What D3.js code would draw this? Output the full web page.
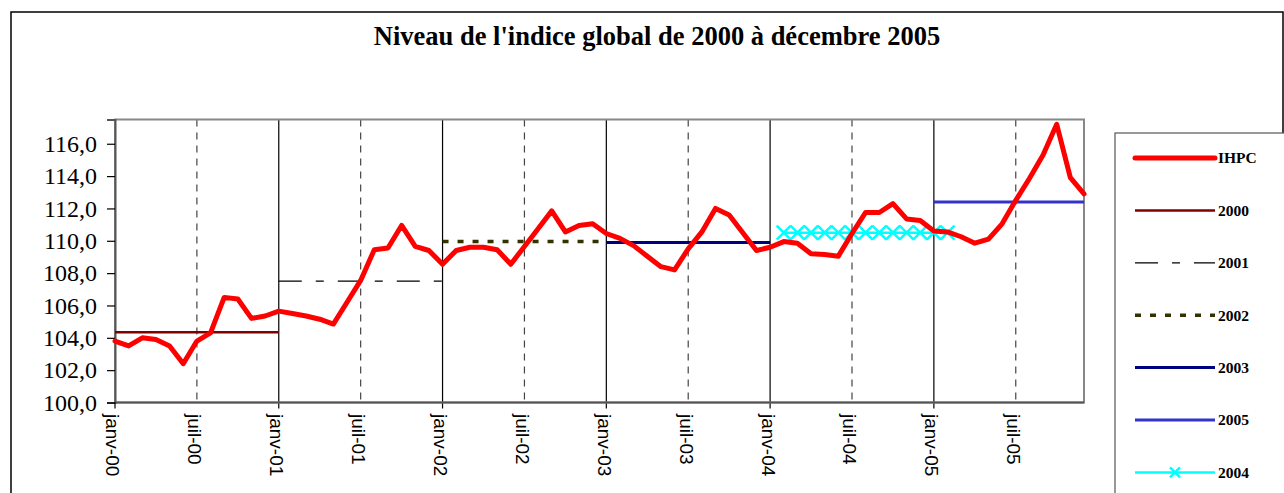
<!DOCTYPE html>
<meta charset="utf-8">
<head>
  <style>
      body { margin: 0; background: #fff; }
      #my_dataviz svg { display: block; }
      .title { font-family: "Liberation Serif", serif; font-weight: bold; font-size: 26.5px; }
      .ylab { font-family: "Liberation Serif", serif; font-size: 24px; }
      .xlab { font-family: "Liberation Sans", Arial, sans-serif; font-size: 19px; }
      .leg { font-family: "Liberation Serif", serif; font-weight: bold; font-size: 15.5px; }
  </style>
</head>
<body>
<script src="https://d3js.org/d3.v7.min.js"></script>
<div id="my_dataviz"></div>

<script>

// monthly IHPC, janv-00 .. dec-05
var ihpc = [103.8, 103.5, 104.0, 103.9, 103.5, 102.4, 103.8, 104.3, 106.5, 106.4, 105.2, 105.35,
            105.65, 105.5, 105.35, 105.15, 104.85, 106.2, 107.55, 109.45, 109.55, 110.95, 109.65, 109.4,
            108.55, 109.4, 109.6, 109.6, 109.45, 108.55, 109.65, 110.75, 111.85, 110.55, 110.95, 111.05,
            110.45, 110.15, 109.7, 109.05, 108.4, 108.2, 109.5, 110.55, 112.0, 111.6, 110.5, 109.4,
            109.6, 109.95, 109.85, 109.2, 109.15, 109.05, 110.45, 111.75, 111.75, 112.3, 111.35, 111.25,
            110.6, 110.55, 110.25, 109.85, 110.1, 111.05, 112.5, 113.85, 115.3, 117.2, 113.9, 112.9];

// yearly averages (series name, level, first month index, last month index)
var avgNames  = ["2000", "2001", "2002", "2003", "2005", "2004"];
var avgValues = [104.35, 107.5, 109.95, 109.9, 112.4, 110.5];
var avgFrom   = [0, 12, 24, 36, 60, 49];
var avgTo     = [12, 24, 36, 48, 71, 61];

var xTickIdx    = [0, 6, 12, 18, 24, 30, 36, 42, 48, 54, 60, 66];
var xTickLabels = ["janv-00", "juil-00", "janv-01", "juil-01", "janv-02", "juil-02",
                   "janv-03", "juil-03", "janv-04", "juil-04", "janv-05", "juil-05"];
var yTicks = [100, 102, 104, 106, 108, 110, 112, 114, 116];

var legendNames = ["IHPC", "2000", "2001", "2002", "2003", "2005", "2004"];

var styles = {
  "IHPC": {color: "#ff0000", width: 5, dash: null},
  "2000": {color: "#800000", width: 2.5, dash: null},
  "2001": {color: "#000000", width: 1.3, dash: "23,14,8,14"},
  "2002": {color: "#333300", width: 3.5, dash: "6,9"},
  "2003": {color: "#000080", width: 3, dash: null},
  "2005": {color: "#3333cc", width: 3, dash: null},
  "2004": {color: "#00ffff", width: 2.5, dash: null}
};

var W = 1284, H = 493;
var plot = {left: 115, right: 1084, top: 119.5, bottom: 402.5};

var svg = d3.select("#my_dataviz")
  .append("svg")
    .attr("width", W)
    .attr("height", H);

// outer chart frame
svg.append("rect")
  .attr("x", 11).attr("y", 12)
  .attr("width", 1272).attr("height", 520)
  .attr("fill", "none").attr("stroke", "#000").attr("stroke-width", 1.5);

svg.append("text").attr("class", "title")
  .attr("x", 657).attr("y", 45)
  .attr("text-anchor", "middle")
  .text("Niveau de l'indice global de 2000 à décembre 2005");

var x = d3.scaleLinear().domain([0, 71]).range([plot.left, plot.right]);
var y = d3.scaleLinear().domain([100, 117.5]).range([plot.bottom, plot.top]);

// vertical gridlines: january solid, july dashed
svg.append("g").selectAll("line")
  .data(xTickIdx.filter(function(d) { return d > 0; }))
  .enter().append("line")
    .attr("x1", function(d) { return x(d); })
    .attr("x2", function(d) { return x(d); })
    .attr("y1", y(117.5))
    .attr("y2", function(d) { return d % 12 == 0 ? y(100) + 6 : y(100); })
    .attr("stroke", function(d) { return d % 12 == 0 ? "#000" : "#444"; })
    .attr("stroke-width", 1.2)
    .attr("stroke-dasharray", function(d) { return d % 12 == 0 ? null : "7,6"; });

// plot frame
svg.append("rect")
  .attr("x", plot.left).attr("y", plot.top)
  .attr("width", plot.right - plot.left).attr("height", plot.bottom - plot.top)
  .attr("fill", "none").attr("stroke", "#888").attr("stroke-width", 2);

// Y axis
var yAxis = svg.append("g")
  .attr("transform", "translate(" + plot.left + ",0)")
  .call(d3.axisLeft(y).tickValues(yTicks).tickSize(8).tickFormat(function(d) { return d3.format(".1f")(d).replace(".", ","); }));
yAxis.select(".domain").attr("stroke", "#555").attr("stroke-width", 2);
yAxis.selectAll(".tick line").attr("stroke", "#000").attr("stroke-width", 1.2);
yAxis.selectAll(".tick text").attr("class", "ylab").attr("x", -18).attr("fill", "#000");
yAxis.attr("font-family", null).attr("font-size", null);

// X axis line
svg.append("line")
  .attr("x1", x(0)).attr("x2", x(71))
  .attr("y1", y(100)).attr("y2", y(100))
  .attr("stroke", "#555").attr("stroke-width", 2);
svg.append("line")
  .attr("x1", x(0)).attr("x2", x(0))
  .attr("y1", y(100)).attr("y2", y(100) + 6)
  .attr("stroke", "#000").attr("stroke-width", 1.2);

svg.append("g").selectAll("text")
  .data(xTickIdx)
  .enter().append("text")
    .attr("class", "xlab")
    .attr("transform", function(d) { return "translate(" + x(d) + ",414)rotate(90)"; })
    .attr("dy", "0.45em")
    .text(function(d, i) { return xTickLabels[i]; });

// yearly average lines
var avgData = avgNames.map(function(n, i) {
  return {name: n, value: avgValues[i], from: avgFrom[i], to: avgTo[i]};
});

svg.append("g").selectAll("line")
  .data(avgData)
  .enter().append("line")
    .attr("x1", function(d) { return x(d.from); })
    .attr("x2", function(d) { return x(d.to); })
    .attr("y1", function(d) { return y(d.value); })
    .attr("y2", function(d) { return y(d.value); })
    .attr("stroke", function(d) { return styles[d.name].color; })
    .attr("stroke-width", function(d) { return styles[d.name].width; })
    .attr("stroke-dasharray", function(d) { return styles[d.name].dash; });

// 2004 markers
function crossPath(cx, cy, r) {
  return "M" + (cx - r) + "," + (cy - r) + "L" + (cx + r) + "," + (cy + r) +
         "M" + (cx - r) + "," + (cy + r) + "L" + (cx + r) + "," + (cy - r);
}
var a04 = avgData.filter(function(d) { return d.name == "2004"; })[0];
svg.append("g").selectAll("path")
  .data(d3.range(a04.from, a04.to + 1))
  .enter().append("path")
    .attr("d", function(d) { return crossPath(x(d), y(a04.value), 7); })
    .attr("stroke", styles["2004"].color)
    .attr("stroke-width", 2.5)
    .attr("fill", "none");

// IHPC line
svg.append("path")
  .datum(ihpc)
  .attr("fill", "none")
  .attr("stroke", styles["IHPC"].color)
  .attr("stroke-width", styles["IHPC"].width)
  .attr("stroke-linejoin", "round")
  .attr("stroke-linecap", "round")
  .attr("d", d3.line()
    .x(function(d, i) { return x(i); })
    .y(function(d) { return y(d); }));

// legend
var legend = svg.append("g").attr("transform", "translate(1115,133)");
legend.append("rect")
  .attr("width", 220).attr("height", 420)
  .attr("fill", "#fff").attr("stroke", "#555").attr("stroke-width", 1.2);

var item = legend.selectAll(".item")
  .data(legendNames)
  .enter().append("g")
    .attr("transform", function(d, i) { return "translate(0," + (25 + i * 52.4) + ")"; });

item.append("line")
  .attr("x1", 20).attr("x2", 100)
  .attr("stroke", function(d) { return styles[d].color; })
  .attr("stroke-width", function(d) { return d == "IHPC" ? 5 : styles[d].width; })
  .attr("stroke-linecap", function(d) { return d == "IHPC" ? "round" : "butt"; })
  .attr("stroke-dasharray", function(d) { return styles[d].dash; });

item.filter(function(d) { return d == "2004"; })
  .append("path")
    .attr("d", crossPath(60, 0, 5))
    .attr("stroke", styles["2004"].color)
    .attr("stroke-width", 2.5);

item.append("text")
  .attr("class", "leg")
  .attr("x", 103).attr("dy", "0.35em")
  .text(function(d) { return d; });

</script>
</body>
